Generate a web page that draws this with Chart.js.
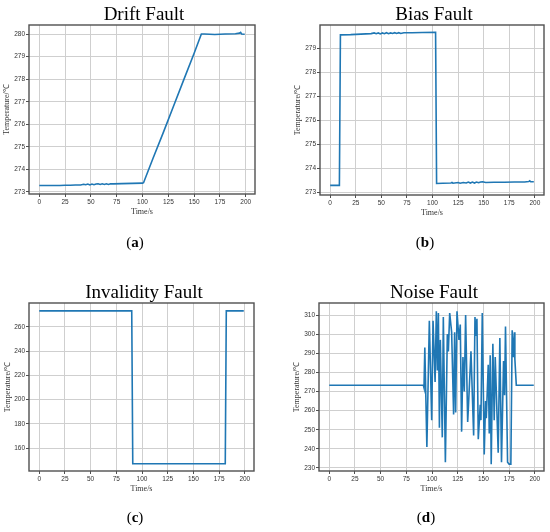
<!DOCTYPE html>
<html>
<head>
<meta charset="utf-8">
<script src="https://cdn.jsdelivr.net/npm/chart.js@4.4.1/dist/chart.umd.min.js"></script>
<style>
	body { margin: 0; background: #fff; }
	#page { position: relative; width: 550px; height: 532px; overflow: hidden; }
	.panel { position: absolute; width: 275px; }
	.title { position: absolute; font-family: 'Liberation Serif', serif; font-size: 19px; color: #000; transform: translate(-50%, -50%); white-space: nowrap; }
	.tag { position: absolute; font-family: 'Liberation Serif', serif; font-size: 15px; color: #000; transform: translate(-50%, -50%); }
	.tag b { font-weight: bold; }
</style>
</head>
<body>
<div id="page">
	<div class="panel" style="left:0;top:0;height:265px"><canvas id="chart-a"></canvas></div>
	<div class="panel" style="left:275px;top:0;height:265px"><canvas id="chart-b"></canvas></div>
	<div class="panel" style="left:0;top:265px;height:267px"><canvas id="chart-c"></canvas></div>
	<div class="panel" style="left:275px;top:265px;height:267px"><canvas id="chart-d"></canvas></div>

	<div class="title" style="left:144px;top:14px">Drift Fault</div>
	<div class="title" style="left:434px;top:14px">Bias Fault</div>
	<div class="title" style="left:144px;top:292px">Invalidity Fault</div>
	<div class="title" style="left:434px;top:292px">Noise Fault</div>

	<div class="tag" style="left:135px;top:242px">(<b>a</b>)</div>
	<div class="tag" style="left:425px;top:242px">(<b>b</b>)</div>
	<div class="tag" style="left:135px;top:517px">(<b>c</b>)</div>
	<div class="tag" style="left:426px;top:517px">(<b>d</b>)</div>
</div>

<script>
// Time ticks shared by all panels
const timeTicks = [0, 25, 50, 75, 100, 125, 150, 175, 200];

// (a) Drift fault: time (s) / temperature (°C)
const driftTime = [0, 10, 20, 25, 30, 35, 40, 43, 45, 47, 49, 51, 53, 55, 57, 59, 61, 63, 65, 67, 69, 72, 80, 90, 100, 101,
	110, 120, 130, 140, 150, 157, 160, 170, 180, 190, 194, 195, 196, 199];
const driftTemp = [273.29, 273.29, 273.29, 273.30, 273.30, 273.31, 273.31, 273.34, 273.32, 273.35, 273.31, 273.35, 273.32, 273.35,
	273.36, 273.33, 273.36, 273.33, 273.36, 273.33, 273.36, 273.36, 273.37, 273.38, 273.39, 273.41,
	274.47, 275.62, 276.80, 277.98, 279.15, 280.00, 280.00, 279.98, 280.00, 280.01, 280.04, 280.07, 280.00, 279.99];
const driftTicks = [273, 274, 275, 276, 277, 278, 279, 280];

// (b) Bias fault
const biasTime = [0, 9, 10, 20, 30, 40, 43, 45, 47, 49, 51, 53, 55, 57, 59, 61, 63, 65, 67, 69, 72, 80, 90, 103, 104,
	110, 118, 119, 120, 125, 127, 130, 133, 135, 137, 139, 141, 143, 145, 147, 149, 152, 160, 170, 180, 190, 194, 195, 196, 199];
const biasTemp = [273.28, 273.28, 279.55, 279.56, 279.58, 279.60, 279.63, 279.60, 279.63, 279.59, 279.63, 279.60, 279.64, 279.60,
	279.63, 279.61, 279.64, 279.61, 279.64, 279.61, 279.64, 279.64, 279.65, 279.66, 273.36,
	273.37, 273.38, 273.40, 273.37, 273.40, 273.37, 273.40, 273.38, 273.42, 273.38, 273.42, 273.38, 273.42, 273.39, 273.42,
	273.43, 273.40, 273.41, 273.41, 273.42, 273.42, 273.44, 273.47, 273.43, 273.43];
const biasTicks = [273, 274, 275, 276, 277, 278, 279];

// (c) Invalidity fault
const invalidTime = [0, 90, 91, 181, 182, 199];
const invalidTemp = [273.3, 273.3, 147, 147, 273.3, 273.3];
const invalidTicks = [160, 180, 200, 220, 240, 260];

// (d) Noise fault
const noiseTime = [0, 91.6, 92.2, 93, 95, 97.4, 99.7, 101, 103, 104.2, 105.2, 106.2, 107.2, 108.1, 110, 111, 113, 114.9, 115.9,
	117.2, 119.1, 121, 122, 123, 124.3, 126.2, 127.5, 128.8, 130.1, 131.4, 132.7, 134.7, 135.6, 137.9, 140.5, 141.8, 142.7,
	143.7, 145, 146.9, 147.6, 148.9, 150.8, 152.1, 152.8, 154.7, 155.7, 156.6, 157.6, 159.2, 160.5, 161.5, 164.4, 166,
	167.6, 169.6, 170.6, 171.5, 173.5, 175, 176.7, 178, 179.3, 180.2, 180.6, 182, 199];
const noiseTemp = [273.3, 273.3, 272, 293, 241, 307, 255, 307, 275, 312, 281, 311, 251, 297, 246, 309, 233, 300, 291,
	311, 301, 258, 301, 259, 312, 297, 305, 249, 288, 270, 310, 254, 264, 291, 247, 309, 299,
	308, 245, 263, 255, 311, 237, 265, 256, 284, 248, 289, 232, 295, 255, 288, 238, 298,
	233, 286, 268, 304, 233, 232, 232, 302, 288, 301, 287, 273.3, 273.3];
const noiseTicks = [230, 240, 250, 260, 270, 280, 290, 300, 310];

const lineColor = '#1f77b4';
const gridColor = '#cfcfcf';
const frameColor = '#505050';
const tickFont = { family: "'Liberation Sans', Arial, sans-serif", size: 6.5 };
const labelFont = { family: "'Liberation Serif', serif", size: 8 };

/* Draw the box round the plot area, like matplotlib spines */
const framePlugin = {
	id: 'frame',
	afterDatasetsDraw(chart) {
		const { ctx, chartArea: a } = chart;
		ctx.save();
		ctx.strokeStyle = frameColor;
		ctx.lineWidth = 1.4;
		ctx.strokeRect(a.left, a.top, a.right - a.left, a.bottom - a.top);
		ctx.restore();
	}
};

/* Init one panel */
function initChart({ chartId, xs, ys, yTicks, yMin, yMax, frame, yTitlePad }) {
	const canvas = document.getElementById(chartId);
	const wrap = canvas.parentNode;
	const width = wrap.clientWidth;
	const height = wrap.clientHeight;
	const xAxisHeight = 24;

	new Chart(canvas, {
		type: 'line',
		data: {
			datasets: [{
				data: xs.map((x, i) => ({ x: x, y: ys[i] })),
				borderColor: lineColor,
				borderWidth: 1.6,
				pointRadius: 0,
				tension: 0,
				fill: false
			}]
		},
		options: {
			responsive: true,
			maintainAspectRatio: false,
			animation: false,
			layout: {
				padding: { left: 0, top: frame.top, right: width - frame.right, bottom: height - frame.bottom - xAxisHeight }
			},
			plugins: { legend: { display: false }, tooltip: { enabled: false } },
			scales: {
				x: {
					type: 'linear',
					min: -9.95,
					max: 208.95,
					afterBuildTicks: scale => { scale.ticks = timeTicks.map(v => ({ value: v })); },
					afterFit: scale => { scale.height = xAxisHeight; },
					grid: { color: gridColor, lineWidth: 1, tickColor: frameColor, tickLength: 3 },
					border: { display: false },
					ticks: { font: tickFont, color: '#333', padding: 1, maxRotation: 0 },
					title: { display: true, text: 'Time/s', font: labelFont, color: '#333', padding: { top: 0, bottom: 1 } }
				},
				y: {
					type: 'linear',
					min: yMin,
					max: yMax,
					afterBuildTicks: scale => { scale.ticks = yTicks.map(v => ({ value: v })); },
					afterFit: scale => { scale.width = frame.left; },
					grid: { color: gridColor, lineWidth: 1, tickColor: frameColor, tickLength: 3 },
					border: { display: false },
					ticks: { font: tickFont, color: '#333', padding: 1 },
					title: { display: true, text: 'Temperature/℃', font: labelFont, color: '#333', padding: { top: yTitlePad, bottom: 0 } }
				}
			}
		},
		plugins: [framePlugin]
	});
}

initChart({ chartId: 'chart-a', xs: driftTime, ys: driftTemp, yTicks: driftTicks, yMin: 272.91, yMax: 280.40,
	frame: { left: 29, top: 25, right: 255, bottom: 194 }, yTitlePad: 2 });
initChart({ chartId: 'chart-b', xs: biasTime, ys: biasTemp, yTicks: biasTicks, yMin: 272.88, yMax: 279.96,
	frame: { left: 45, top: 25, right: 269, bottom: 195 }, yTitlePad: 18 });
initChart({ chartId: 'chart-c', xs: invalidTime, ys: invalidTemp, yTicks: invalidTicks, yMin: 141, yMax: 279.8,
	frame: { left: 29, top: 38, right: 254, bottom: 206 }, yTitlePad: 3 });
initChart({ chartId: 'chart-d', xs: noiseTime, ys: noiseTemp, yTicks: noiseTicks, yMin: 228.4, yMax: 316.3,
	frame: { left: 44, top: 38, right: 269, bottom: 206 }, yTitlePad: 17 });
</script>
</body>
</html>
